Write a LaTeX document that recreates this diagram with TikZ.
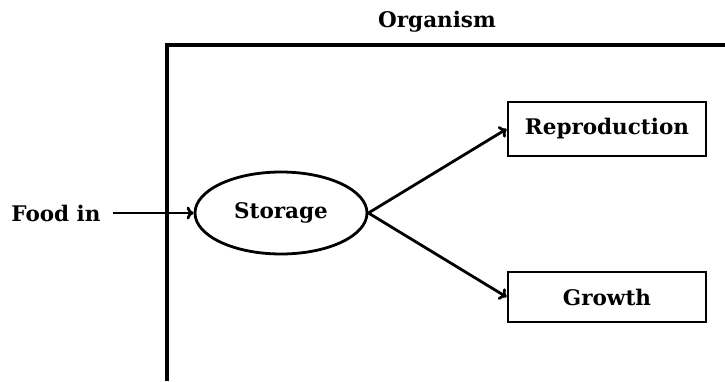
\documentclass[tikz,border=0pt]{standalone}
\usepackage{fontspec}
\setmainfont{DejaVu Serif}
\usepackage{tikz}
\usetikzlibrary{arrows.meta}
\tikzstyle{store} = [ellipse, minimum width=172pt, minimum height=82pt, draw=black, line width=2.8pt, font=\fontsize{21.5}{24}\selectfont\bfseries]
\tikzstyle{box}   = [rectangle, minimum width=198pt, minimum height=54pt, draw=black, line width=2.8pt, font=\fontsize{21.5}{24}\selectfont\bfseries]
\tikzstyle{txt}   = [inner sep=2pt, font=\fontsize{21.5}{24}\selectfont\bfseries]
\tikzstyle{arrow} = [line width=2.8pt, -{To[length=7pt,width=13pt]}]
\usetikzlibrary{shapes.geometric}

\begin{document}
\begin{tikzpicture}[x=1pt, y=1pt, node distance=326pt]
    \useasboundingbox (0,0) rectangle (725,381);
    \node (S) [store] at (281,168)             {Storage};
    \node (R) [box, right of=S, yshift=84pt]   {Reproduction};
    \node (G) [box, right of=S, yshift=-84pt, minimum height=50pt] {Growth};
    \node (F) [txt, left of=S, xshift=101pt]   {Food in};
    \node (O) [txt] at (437,359)               {Organism};

    % organism frame
    \draw [line width=4.5pt] (167,0) -- (167,336) -- (725,336);

    \draw [arrow] (F.east) ++(10pt,0) coordinate (f) -- (S);
    \draw [arrow] (S.east) -- (R.west);
    \draw [arrow] (S.east) -- (G.west);
\end{tikzpicture}
\end{document}
